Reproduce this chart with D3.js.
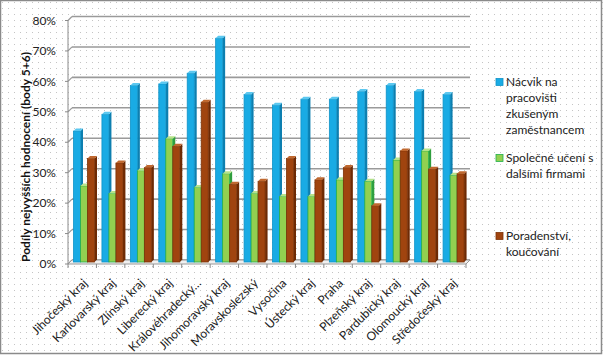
<!DOCTYPE html>
<html><head><meta charset="utf-8">
<script src="https://cdn.jsdelivr.net/npm/d3@7"></script>
<style>body{margin:0;background:#fff}svg{display:block}</style>
</head><body>
<svg id="c" width="603" height="355"></svg>
<script>
const categories = ["Jihočeský kraj","Karlovarský kraj","Zlínský kraj","Liberecký kraj","Královéhradecký…","Jihomoravský kraj","Moravskoslezský","Vysočina","Ústecký kraj","Praha","Plzeňský kraj","Pardubický kraj","Olomoucký kraj","Středočeský kraj"];
const seriesNames = ["Nácvik na pracovišti zkušeným zaměstnancem","Společné učení s dalšími firmami","Poradenství, koučování"];
const nacvik = [43.5,49,58.5,59,62.5,74,55.5,52,54,54,56.5,58.5,56.5,55.5];
const spolecne = [25.5,23,30.5,41,25,29.5,23,22,22,27.5,27,34,37,29];
const poradenstvi = [34.5,33,31.5,38.5,53,26,27,34.5,27.5,31.5,19,37,31,29.5];
const yTicks = [0,10,20,30,40,50,60,70,80];
const legendLines = [["Nácvik na","pracovišti","zkušeným","zaměstnancem"],["Společné učení s","dalšími firmami"],["Poradenství,","koučování"]];

const svg = d3.select("#c");
const font = "Lato, 'Open Sans', sans-serif";
const defs = svg.append("defs");
const pat = defs.append("pattern").attr("id","dots").attr("width",6).attr("height",6).attr("patternUnits","userSpaceOnUse");
pat.append("rect").attr("x",2).attr("y",2).attr("width",1).attr("height",1).attr("fill","#c4c4c4");
svg.append("rect").attr("width",603).attr("height",355).attr("fill","#fff");
svg.append("rect").attr("width",603).attr("height",355).attr("fill","url(#dots)");
svg.append("rect").attr("x",0.5).attr("y",0.5).attr("width",601).attr("height",353).attr("fill","none").attr("stroke","#8a8a8a").attr("stroke-width",1.5);

const DX = 4, DY = -4;
const x0 = 68, x1 = 466;
const yFront = d3.scaleLinear().domain([0,80]).range([264,20.5]);
const yBack = v => yFront(v) + DY;
const x = d3.scaleBand().domain(categories).range([x0,x1]).paddingInner(0).paddingOuter(0);

const g = svg.append("g");
yTicks.forEach(t => {
  g.append("line").attr("x1",x0+DX).attr("x2",x1+DX).attr("y1",yBack(t)).attr("y2",yBack(t))
    .attr("stroke","#9a9a9a").attr("stroke-width",1.6);
  g.append("line").attr("x1",x0).attr("x2",x0+DX).attr("y1",yFront(t)).attr("y2",yBack(t))
    .attr("stroke","#9a9a9a").attr("stroke-width",1.2);
});
g.append("path").attr("d",`M${x0},${yFront(0)}L${x1},${yFront(0)}L${x1+DX},${yBack(0)}L${x0+DX},${yBack(0)}Z`)
  .attr("fill","#f0f0f0").attr("stroke","#9a9a9a").attr("stroke-width",1);
g.append("line").attr("x1",x0).attr("x2",x0).attr("y1",yFront(0)).attr("y2",yFront(80)).attr("stroke","#8a8a8a");
yTicks.forEach(t => g.append("line").attr("x1",x0-3).attr("x2",x0).attr("y1",yFront(t)).attr("y2",yFront(t)).attr("stroke","#8a8a8a"));
categories.concat(["_end"]).forEach((c,i) => {
  const xx = x0 + i*x.bandwidth();
  g.append("line").attr("x1",xx).attr("x2",xx).attr("y1",yFront(0)).attr("y2",yFront(0)+4).attr("stroke","#8a8a8a");
});

svg.append("g").selectAll("text").data(yTicks).join("text")
  .attr("x",56).attr("y",d=>yFront(d)).attr("dy","0.35em").attr("text-anchor","end")
  .attr("font-family",font).attr("font-size",12).attr("fill","#222").text(d=>d+"%");

svg.append("text").attr("transform","translate(30,157) rotate(-90)").attr("text-anchor","middle")
  .attr("font-family",font).attr("font-size",12).attr("font-weight","bold").attr("fill","#111")
  .text("Podíly nejvyšších hodnocení (body 5+6)");

const series = [
  {vals:nacvik, front:"#19abe4", side:"#0d7fb0", top:"#5cc8f0", stroke:"#0f93c8"},
  {vals:spolecne, front:"#92d050", side:"#2f9e3e", top:"#b7e38a", stroke:"#21b04b"},
  {vals:poradenstvi, front:"#a0440f", side:"#6e2a04", top:"#c0682f", stroke:"#7d3206"}
];
const bw = 7, bd = 2.5, pad = 5.5;
const yMid = v => yFront(v) - 2;
const bars = svg.append("g");
categories.forEach((c,i) => {
  series.forEach((s,j) => {
    const v = s.vals[i];
    const bx = x(c) + pad + j*bw;
    const yt = yMid(v) + 1.5, yb = yFront(0) - 2;
    bars.append("path").attr("d",`M${bx+bw},${yt}L${bx+bw+bd},${yt-bd}L${bx+bw+bd},${yb-bd}L${bx+bw},${yb}Z`).attr("fill",s.side);
    bars.append("rect").attr("x",bx).attr("y",yt).attr("width",bw).attr("height",yb-yt)
      .attr("fill",s.front).attr("stroke",s.stroke).attr("stroke-width",0.8);
    bars.append("path").attr("d",`M${bx},${yt}L${bx+bd},${yt-bd}L${bx+bw+bd},${yt-bd}L${bx+bw},${yt}Z`).attr("fill",s.top);
  });
});

svg.append("g").selectAll("text").data(categories).join("text")
  .attr("transform",d=>`translate(${x(d)+x.bandwidth()/2+3},${281}) rotate(-45)`)
  .attr("text-anchor","end").attr("dy","0.35em")
  .attr("font-family",font).attr("font-size",12).attr("fill","#222").text(d=>d);

const legY = [82,158,236];
const lg = svg.append("g");
series.forEach((s,j) => {
  lg.append("rect").attr("x",496).attr("y",legY[j]-3.5).attr("width",7).attr("height",7)
    .attr("fill",s.front).attr("stroke",s.stroke).attr("stroke-width",0.8);
  legendLines[j].forEach((ln,k) => {
    lg.append("text").attr("x",506).attr("y",legY[j]+k*16).attr("dy","0.35em")
      .attr("font-family",font).attr("font-size",12).attr("fill","#222").text(ln);
  });
});
</script>
</body></html>
